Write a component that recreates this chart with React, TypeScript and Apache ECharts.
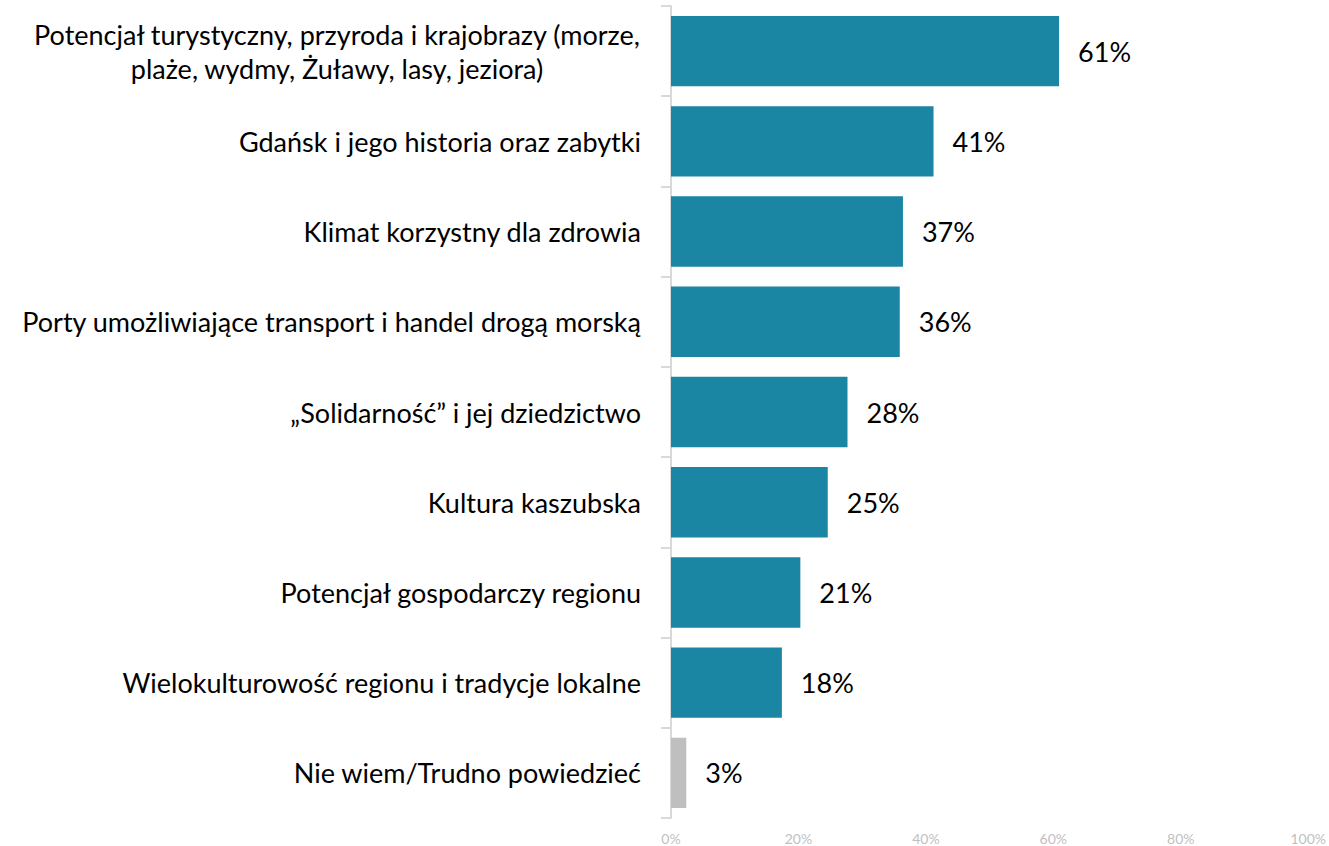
import React, { useEffect, useRef } from "react";
import * as echarts from "echarts";

const categories = [
  "Potencjał turystyczny, przyroda i krajobrazy (morze,\nplaże, wydmy, Żuławy, lasy, jeziora)",
  "Gdańsk i jego historia oraz zabytki",
  "Klimat korzystny dla zdrowia",
  "Porty umożliwiające transport i handel drogą morską",
  "„Solidarność” i jej dziedzictwo",
  "Kultura kaszubska",
  "Potencjał gospodarczy regionu",
  "Wielokulturowość regionu i tradycje lokalne",
  "Nie wiem/Trudno powiedzieć",
];
const values = [60.9, 41.2, 36.4, 35.9, 27.7, 24.6, 20.3, 17.4, 2.4];
const valueLabels = ["61%", "41%", "37%", "36%", "28%", "25%", "21%", "18%", "3%"];
const barColors = ["#1a86a4", "#1a86a4", "#1a86a4", "#1a86a4", "#1a86a4", "#1a86a4", "#1a86a4", "#1a86a4", "#bfbfbf"];
const xTicks = [0, 20, 40, 60, 80, 100];

const FONT = "Lato";
const LABEL_SIZE = 27;

function measure(text: string, size: number, family: string): number {
  const c = document.createElement("canvas");
  const ctx = c.getContext("2d");
  if (!ctx) return 600;
  ctx.font = `${size}px ${family}`;
  return ctx.measureText(text).width;
}

export default function App() {
  const ref = useRef<HTMLDivElement>(null);
  useEffect(() => {
    if (!ref.current) return;
    const chart = echarts.init(ref.current, null, { renderer: "svg" });
    const firstLines = categories[0].split("\n");
    const w = Math.ceil(Math.max(...firstLines.map((l) => measure(l, LABEL_SIZE, FONT))));
    chart.setOption({
      animation: false,
      grid: { left: 671, right: 20, top: 6, bottom: 28, containLabel: false },
      xAxis: {
        type: "value",
        min: xTicks[0],
        max: xTicks[xTicks.length - 1],
        interval: 20,
        axisLine: { show: false },
        axisTick: { show: false },
        splitLine: { show: false },
        axisLabel: {
          formatter: "{value}%",
          color: "#bfbfbf",
          fontSize: 14,
          fontFamily: FONT,
          margin: 13,
        },
      },
      yAxis: {
        type: "category",
        inverse: true,
        data: categories,
        axisLine: { show: true, lineStyle: { color: "#d9d9d9", width: 2 } },
        axisTick: { show: true, length: 10, lineStyle: { color: "#d9d9d9", width: 2 } },
        axisLabel: {
          color: "#000",
          fontSize: LABEL_SIZE,
          fontFamily: FONT,
          margin: 30,
          formatter: (val: string) => {
            if (val.indexOf("\n") >= 0) {
              return val
                .split("\n")
                .map((l) => `{c|${l}}`)
                .join("\n");
            }
            return val;
          },
          rich: {
            c: {
              width: w,
              align: "center",
              fontSize: LABEL_SIZE,
              fontFamily: FONT,
              color: "#000",
              lineHeight: 34,
            },
          },
        },
      },
      series: [
        {
          type: "bar",
          barCategoryGap: "22%",
          data: values.map((v, i) => ({ value: v, itemStyle: { color: barColors[i] } })),
          label: {
            show: true,
            position: "right",
            distance: 19,
            color: "#000",
            fontSize: 27,
            fontFamily: FONT,
            formatter: (p: any) => valueLabels[p.dataIndex],
          },
        },
      ],
    });
    return () => chart.dispose();
  }, []);
  return (
    <div
      ref={ref}
      style={{ position: "fixed", left: 0, top: 0, width: 1329, height: 846, background: "#fff" }}
    />
  );
}
